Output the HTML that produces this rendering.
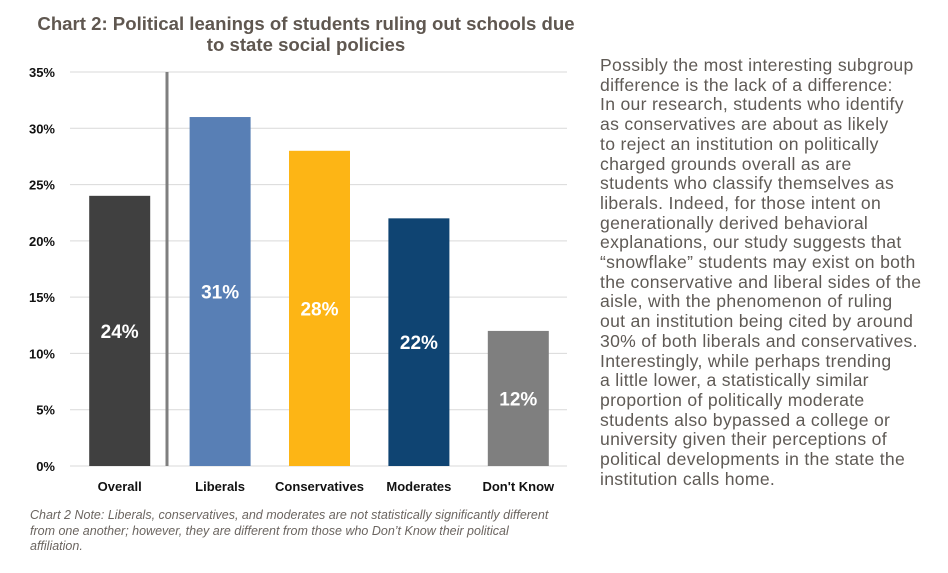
<!DOCTYPE html>
<html><head><meta charset="utf-8"><style>
body{margin:0;width:948px;height:573px;background:#fff;overflow:hidden;font-family:"Liberation Sans",sans-serif;position:relative}
#title{position:absolute;left:0;width:612px;top:13px;text-align:center;font-weight:bold;font-size:18.6px;line-height:21px;color:#5f5750;white-space:nowrap}
#note{position:absolute;left:30px;top:508px;font-style:italic;font-size:12.5px;line-height:15.5px;color:#6b6560;white-space:nowrap}
#side{position:absolute;left:600px;top:56px;font-size:17.6px;line-height:19.7px;color:#5f5a55;white-space:nowrap;letter-spacing:0.3px}
svg{position:absolute;left:0;top:0}
</style></head><body>
<div id="title">Chart 2: Political leanings of students ruling out schools due<br>to state social policies</div>
<svg id="chart" width="600" height="500"></svg>
<div id="note">Chart 2 Note: Liberals, conservatives, and moderates are not statistically significantly different<br>from one another; however, they are different from those who Don’t Know their political<br>affiliation.</div>
<div id="side">Possibly the most interesting subgroup<br>difference is the lack of a difference:<br>In our research, students who identify<br>as conservatives are about as likely<br>to reject an institution on politically<br>charged grounds overall as are<br>students who classify themselves as<br>liberals. Indeed, for those intent on<br>generationally derived behavioral<br>explanations, our study suggests that<br>“snowflake” students may exist on both<br>the conservative and liberal sides of the<br>aisle, with the phenomenon of ruling<br>out an institution being cited by around<br>30% of both liberals and conservatives.<br>Interestingly, while perhaps trending<br>a little lower, a statistically similar<br>proportion of politically moderate<br>students also bypassed a college or<br>university given their perceptions of<br>political developments in the state the<br>institution calls home.</div>
<script>
const categories=["Overall","Liberals","Conservatives","Moderates","Don't Know"];
const values=[24,31,28,22,12];
const colors=["#404040","#587fb5","#fdb515","#0f4472","#7f7f7f"];
const ticks=[0,5,10,15,20,25,30,35];
const svg=document.getElementById('chart');
const NS='http://www.w3.org/2000/svg';
const y0=466,yTop=72,maxV=35,x0=70,x1=567;
const y=v=>y0-(v/maxV)*(y0-yTop);
const step=(x1-x0)/categories.length;
const xc=i=>x0+step*(i+0.5)+(i===0?0:1);
function mk(t,a){const e=document.createElementNS(NS,t);for(const k in a)e.setAttribute(k,a[k]);svg.appendChild(e);return e;}
ticks.forEach(t=>{
 const l=mk('line',{x1:x0,x2:x1,y1:y(t),y2:y(t),stroke:'#d9d9d9','stroke-width':1});
 
 
 const tx=mk('text',{x:55,y:y(t)+5,'text-anchor':'end','font-size':13,'font-weight':'bold',fill:'#111'});
 tx.textContent=t+'%';
 
 
});
const sep=mk('line',{x1:167,x2:167,y1:yTop,y2:y0,stroke:'#7f7f7f','stroke-width':3});


const bw=61;
categories.forEach((c,i)=>{
 const cx=xc(i);
 const r=mk('rect',{x:cx-bw/2,y:y(values[i]),width:bw,height:y0-y(values[i]),fill:colors[i]});
 
 
 const lb=mk('text',{x:cx,y:(y(values[i])+y0)/2+7,'text-anchor':'middle','font-size':19,'font-weight':'bold',fill:'#fff'});
 lb.textContent=values[i]+'%';
 
 
 const xl=mk('text',{x:cx,y:491,'text-anchor':'middle','font-size':13,'font-weight':'bold',fill:'#111'});
 xl.textContent=c;
 
 
});
</script>
</body></html>
